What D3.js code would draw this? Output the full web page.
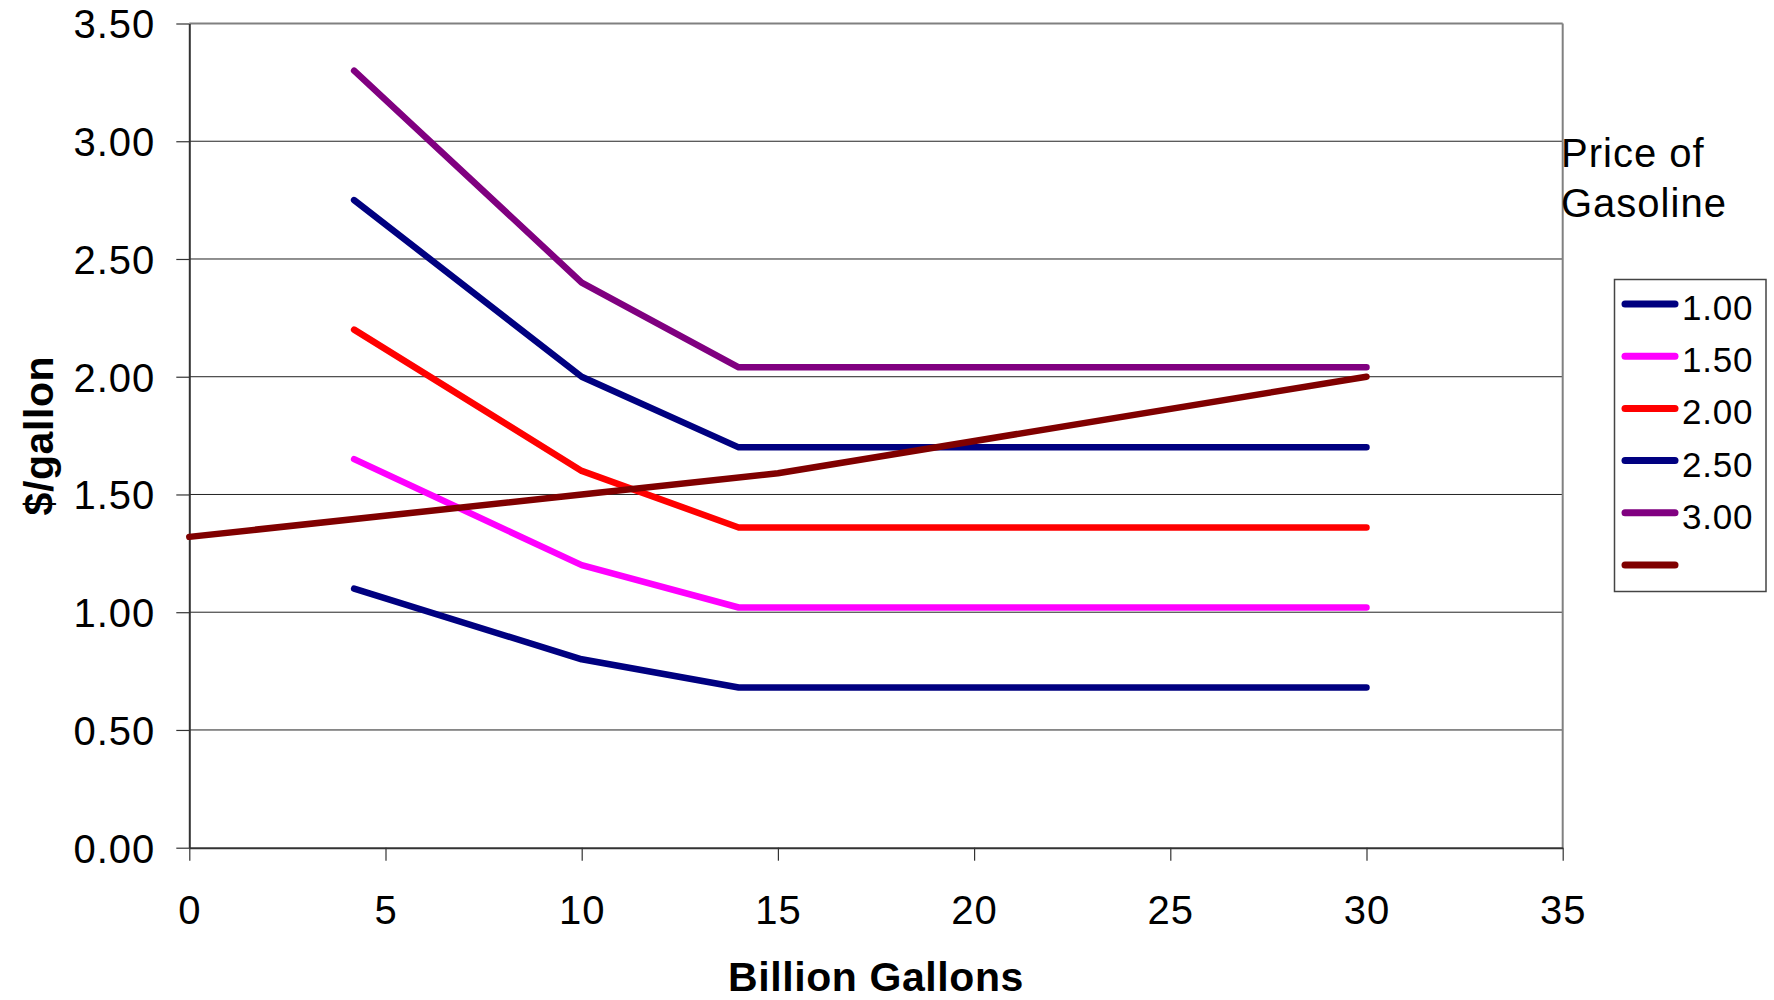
<!DOCTYPE html>
<html>
<head>
<meta charset="utf-8">
<script src="https://cdn.jsdelivr.net/npm/d3@7"></script>
<style>
  html, body { margin: 0; padding: 0; background: #fff; }
  svg { display: block; font-family: "Liberation Sans", Arial, sans-serif; }
</style>
</head>
<body>
<svg id="chart" width="1774" height="1000"></svg>
<script>
// ---- data ----
const demandX = [4.2, 10, 14, 30];
const gasPrices = ["1.00", "1.50", "2.00", "2.50", "3.00"];
const demand100 = [1.10, 0.80, 0.68, 0.68];
const demand150 = [1.65, 1.20, 1.02, 1.02];
const demand200 = [2.20, 1.60, 1.36, 1.36];
const demand250 = [2.75, 2.00, 1.70, 1.70];
const demand300 = [3.30, 2.40, 2.04, 2.04];
const supplyX = [0, 10, 15, 30];
const supplyY = [1.32, 1.50, 1.59, 2.00];
const xTicks = [0, 5, 10, 15, 20, 25, 30, 35];
const yTicks = [0, 0.5, 1.0, 1.5, 2.0, 2.5, 3.0, 3.5];
const seriesColors = ["#000080", "#FF00FF", "#FF0000", "#000080", "#800080", "#800000"];

const series = [
  { name: gasPrices[0], xs: demandX, ys: demand100 },
  { name: gasPrices[1], xs: demandX, ys: demand150 },
  { name: gasPrices[2], xs: demandX, ys: demand200 },
  { name: gasPrices[3], xs: demandX, ys: demand250 },
  { name: gasPrices[4], xs: demandX, ys: demand300 },
  { name: "", xs: supplyX, ys: supplyY }
];

// ---- layout ----
const L = 189.3, R = 1562.7, T = 23.5, B = 847.7;
const svg = d3.select("#chart");
const x = d3.scaleLinear().domain([0, 35]).range([L, R]);
const y = d3.scaleLinear().domain([0, 3.5]).range([B, T]);

// gridlines
svg.append("g").selectAll("line").data(yTicks.filter(d => d > 0 && d < 3.5)).join("line")
  .attr("x1", L).attr("x2", R)
  .attr("y1", d => y(d)).attr("y2", d => y(d))
  .attr("stroke", "#222").attr("stroke-width", 1);

// plot frame (top + right gray)
svg.append("line").attr("x1", L).attr("x2", R).attr("y1", T).attr("y2", T)
  .attr("stroke", "#808080").attr("stroke-width", 2);
svg.append("line").attr("x1", R).attr("x2", R).attr("y1", T).attr("y2", B)
  .attr("stroke", "#808080").attr("stroke-width", 2);

// axes
const yAxis = d3.axisLeft(y).tickValues(yTicks).tickFormat(d3.format(".2f"))
  .tickSizeInner(13).tickSizeOuter(0).tickPadding(21);
const gy = svg.append("g").attr("transform", `translate(${L},0)`).call(yAxis);
gy.select(".domain").attr("stroke", "#333").attr("stroke-width", 2);
gy.selectAll(".tick line").attr("stroke", "#333").attr("stroke-width", 1.2);
gy.selectAll(".tick text").attr("font-size", 40).attr("fill", "#000")
  .attr("letter-spacing", "1px")
  .attr("font-family", "'Liberation Sans', Arial, sans-serif").attr("dy", "0.36em");

const xAxis = d3.axisBottom(x).tickValues(xTicks).tickFormat(d3.format("d"))
  .tickSizeInner(13).tickSizeOuter(0).tickPadding(35);
const gx = svg.append("g").attr("transform", `translate(0,${B})`).call(xAxis);
gx.select(".domain").attr("stroke", "#333").attr("stroke-width", 2);
gx.selectAll(".tick line").attr("stroke", "#333").attr("stroke-width", 1.2);
gx.selectAll(".tick text").attr("font-size", 40).attr("fill", "#000")
  .attr("letter-spacing", "1px")
  .attr("font-family", "'Liberation Sans', Arial, sans-serif");

// series lines
const line = d3.line().x(d => x(d[0])).y(d => y(d[1]));
svg.append("g").selectAll("path").data(series).join("path")
  .attr("d", s => line(s.xs.map((v, i) => [v, s.ys[i]])))
  .attr("fill", "none")
  .attr("stroke", (s, i) => seriesColors[i])
  .attr("stroke-width", 6.5)
  .attr("stroke-linecap", "round")
  .attr("stroke-linejoin", "round");

// axis titles
svg.append("text").attr("x", (L + R) / 2).attr("y", 991)
  .attr("text-anchor", "middle").attr("font-weight", "bold").attr("font-size", 41)
  .attr("letter-spacing", "0.6px")
  .text("Billion Gallons");
svg.append("text").attr("transform", `translate(53,${(T + B) / 2}) rotate(-90)`)
  .attr("text-anchor", "middle").attr("font-weight", "bold").attr("font-size", 41)
  .attr("letter-spacing", "0.6px")
  .text("$/gallon");

// legend title
svg.append("text").attr("x", 1561).attr("y", 166.7).attr("font-size", 40)
  .attr("letter-spacing", "1px").text("Price of");
svg.append("text").attr("x", 1561).attr("y", 217.3).attr("font-size", 40)
  .attr("letter-spacing", "1px").text("Gasoline");

// legend
const lg = svg.append("g");
lg.append("rect").attr("x", 1614.5).attr("y", 279.5).attr("width", 151.5).attr("height", 312)
  .attr("fill", "#fff").attr("stroke", "#444").attr("stroke-width", 1.5);
const rowY = d3.scaleLinear().domain([0, 5]).range([304, 565]);
const items = lg.selectAll("g.item").data(series).join("g").attr("class", "item")
  .attr("transform", (s, i) => `translate(0,${rowY(i)})`);
items.append("line").attr("x1", 1625).attr("x2", 1675).attr("y1", 0).attr("y2", 0)
  .attr("stroke", (s, i) => seriesColors[i]).attr("stroke-width", 7)
  .attr("stroke-linecap", "round");
items.append("text").attr("x", 1682).attr("y", 16).attr("font-size", 35)
  .attr("letter-spacing", "0.8px").text(s => s.name);
</script>
</body>
</html>
